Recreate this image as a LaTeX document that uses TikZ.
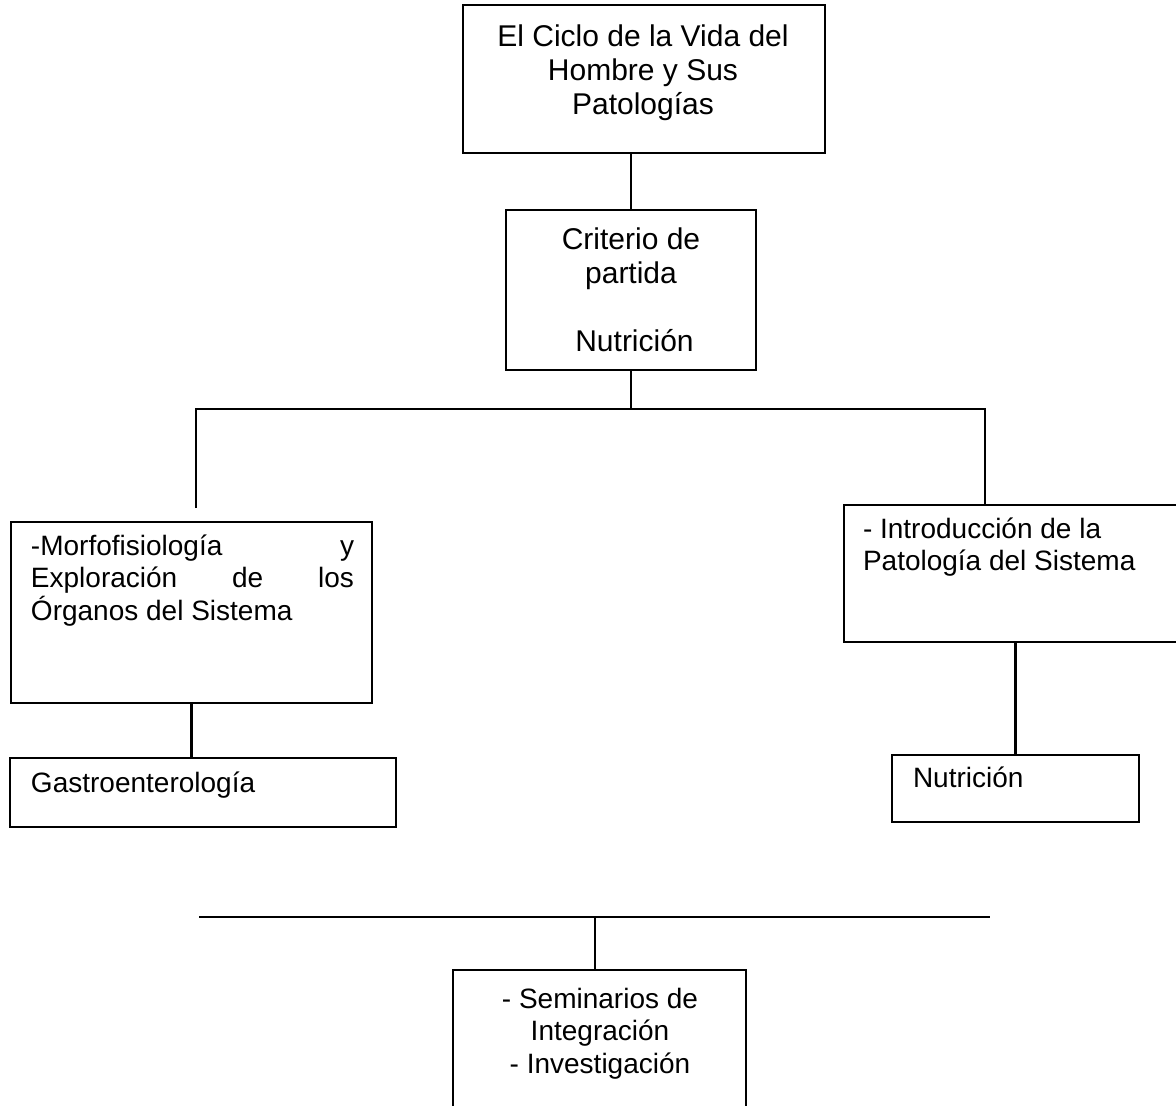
\documentclass[tikz,border=0pt]{standalone}
\usepackage{fontspec}
\setmainfont{Liberation Sans}
\begin{document}
\begin{tikzpicture}[x=0.5pt,y=-0.5pt,
  line width=1.1pt,
  box/.style={draw, inner sep=0pt, outer sep=0pt},
  txt/.style={inner sep=0pt, outer sep=0pt},
  big/.style={font=\fontsize{15pt}{17pt}\selectfont},
  small/.style={font=\fontsize{14pt}{16.25pt}\selectfont}]
\useasboundingbox (0,0) rectangle (1176,1106);
\clip (0,0) rectangle (1176,1106);
\fill[white] (0,0) rectangle (1176,1106);

% boxes
\node[box, minimum width=181pt, minimum height=74pt] (b1) at (644,79) {};
\node[box, minimum width=125pt, minimum height=80pt] (b2) at (631,290) {};
\node[box, minimum width=180.5pt, minimum height=90.5pt] (b3) at (191.5,612.5) {};
\node[box, minimum width=193pt, minimum height=34.5pt] (b4) at (203,792.5) {};
\node[box, minimum width=178pt, minimum height=68.5pt] (b5) at (1022,573.5) {};
\node[box, minimum width=123.5pt, minimum height=33.5pt] (b6) at (1015.5,788.5) {};
\node[box, minimum width=146.5pt, minimum height=80pt] (b7) at (599.5,1050) {};

% texts
\node[txt, big, anchor=base] (t1) at (643,47)
  {\parbox[t]{170pt}{\centering El Ciclo de la Vida del\\Hombre y Sus\\Patologías}};
\node[txt, big, anchor=base] (t2) at (631,250)
  {\parbox[t]{115pt}{\centering Criterio de\\partida\\\mbox{}\\\hspace*{3.5pt}Nutrición}};
\node[txt, small, anchor=base west] (t3) at (31,555)
  {\parbox[t]{161.5pt}{-Morfofisiología\hfill y\\Exploración\hfill de\hfill los\\Órganos del Sistema}};
\node[txt, small, anchor=base west] (t4) at (31,792) {Gastroenterología};
\node[txt, small, anchor=base west] (t5) at (863,538)
  {\parbox[t]{150pt}{\raggedright - Introducción de la\\Patología del Sistema}};
\node[txt, small, anchor=base west] (t6) at (913,787) {Nutrición};
\node[txt, small, anchor=base] (t7) at (600,1008)
  {\parbox[t]{140pt}{\centering - Seminarios de\\Integración\\- Investigación}};

% connectors
\draw (b2.north |- b1.south) -- (b2.north);
\coordinate (busL) at (196,409);
\coordinate (busR) at (985,409);
\coordinate (lEnd) at (196,508);
\draw (b2.south) -- (b2.south |- busL);
\draw (lEnd) |- (busR) -- (busR |- b5.north);
\draw (b3.south) -- (b3.south |- b4.north);
\draw (b6.north |- b5.south) -- (b6.north);
\coordinate (bus2L) at (199,917);
\coordinate (bus2R) at (990,917);
\coordinate (j2) at (595,917);
\draw (bus2L) -- (bus2R);
\draw (j2) -- (j2 |- b7.north);
\end{tikzpicture}
\end{document}
